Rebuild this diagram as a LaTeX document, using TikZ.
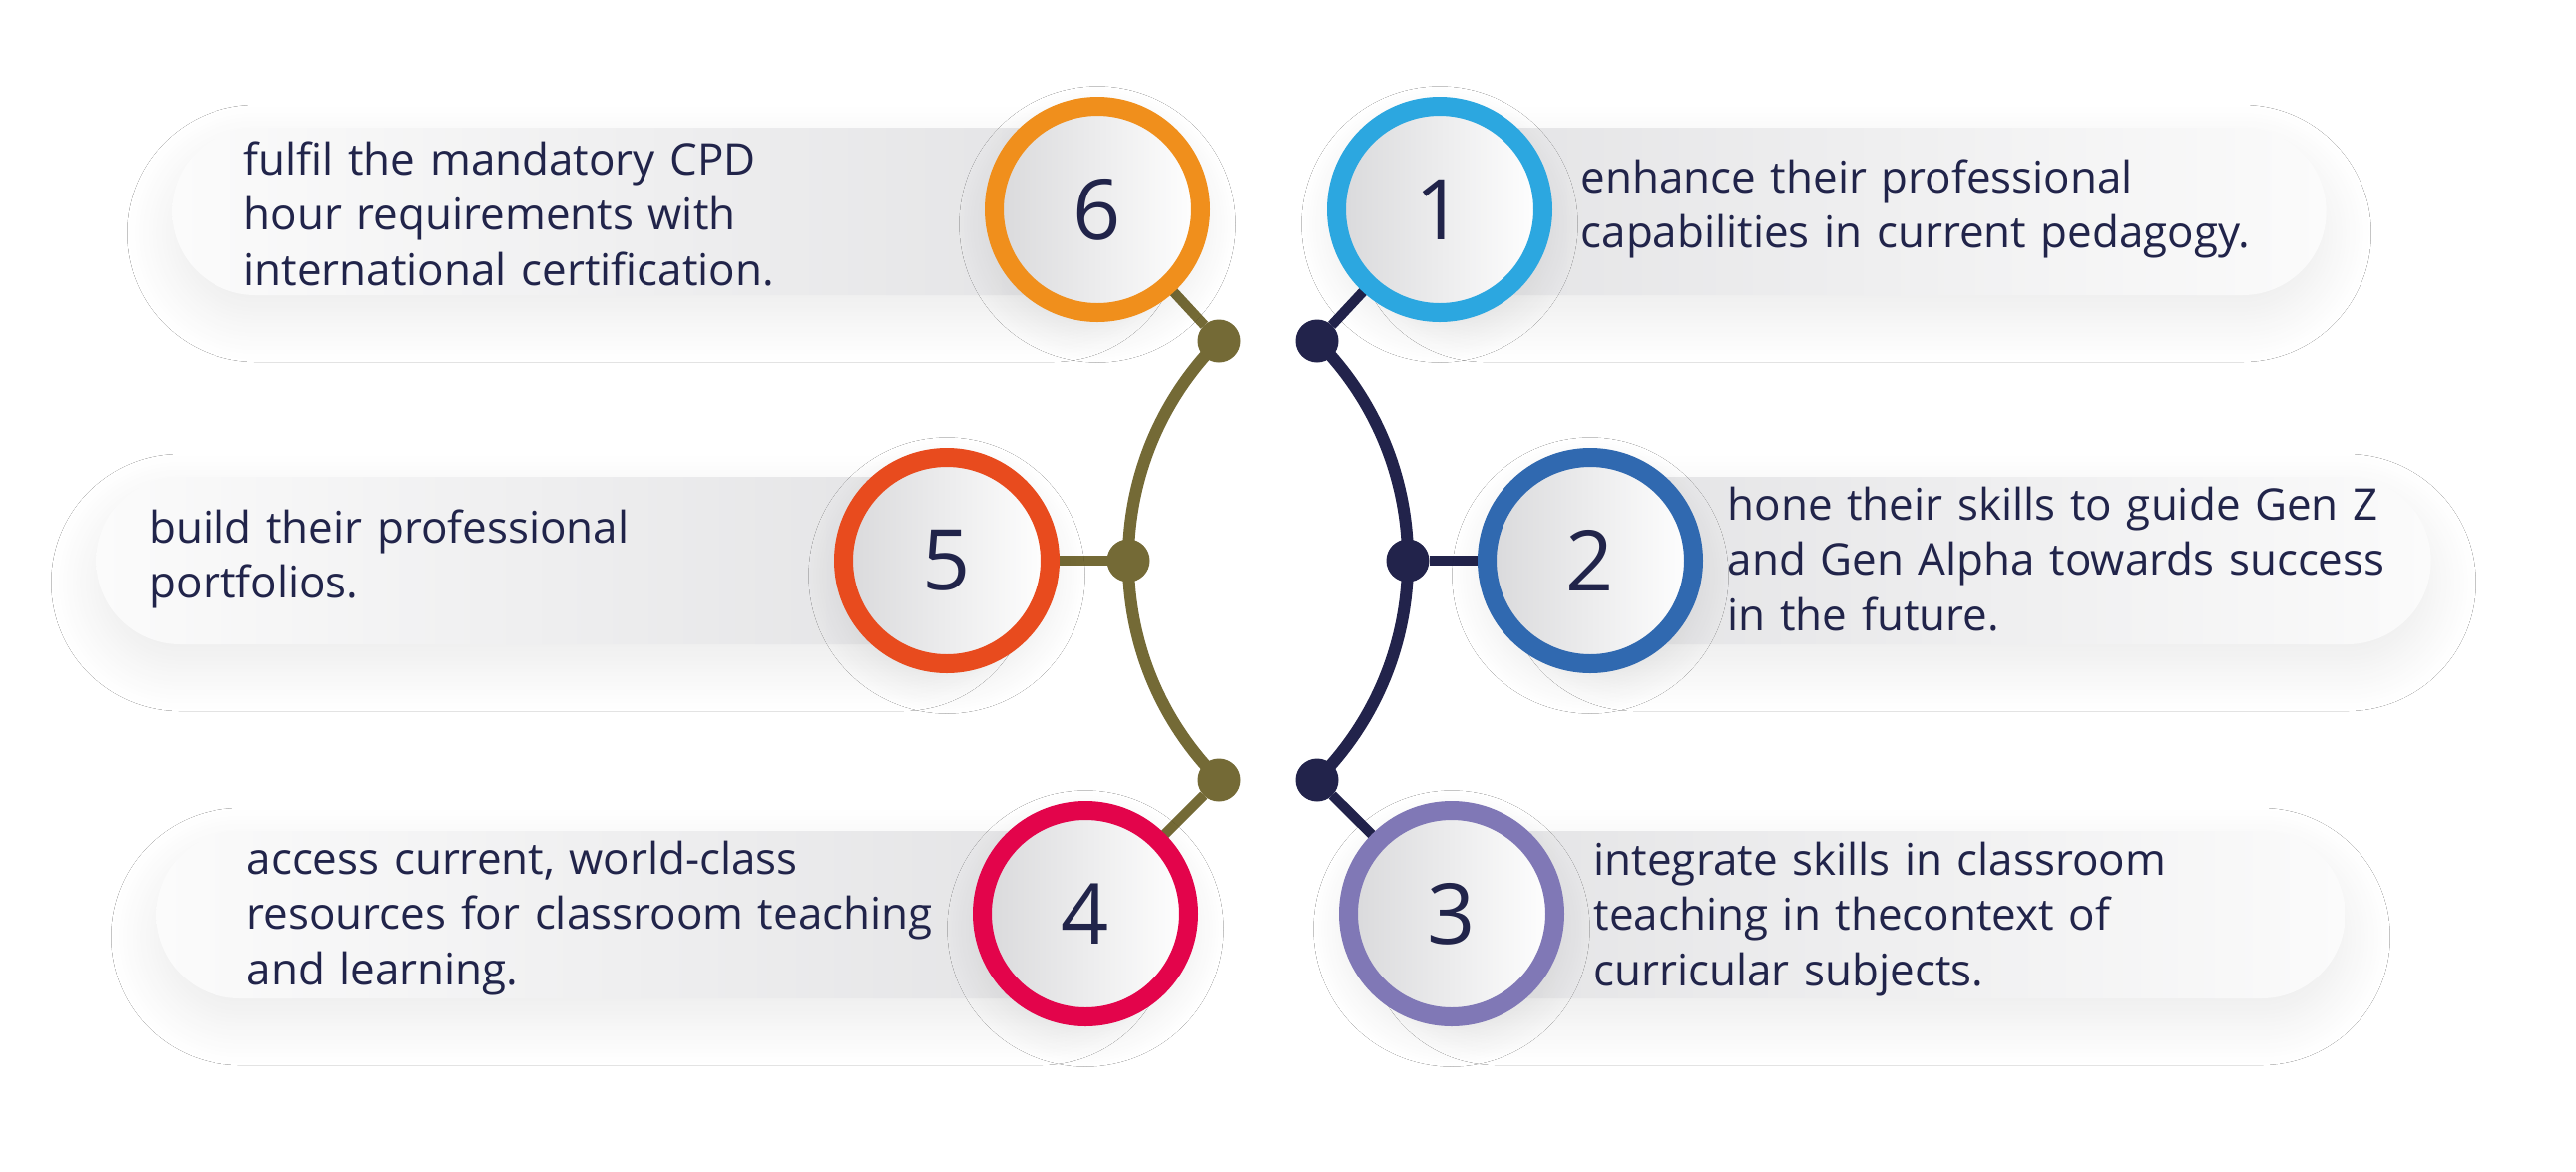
\documentclass[tikz,border=0pt]{standalone}
\usepackage{fontspec}
\setmainfont{Open Sans}
\usetikzlibrary{positioning,backgrounds,shadows.blur}
\definecolor{Ink}{HTML}{21244A}
\definecolor{Navy}{HTML}{22234B}
\definecolor{Olive}{HTML}{746A36}
\definecolor{Amber}{HTML}{F08F1C}
\definecolor{Sky}{HTML}{2CA7E0}
\definecolor{Flame}{HTML}{E84B1E}
\definecolor{Cobalt}{HTML}{3069B0}
\definecolor{Crimson}{HTML}{E3044B}
\definecolor{Lilac}{HTML}{8078B6}
\definecolor{Mist}{HTML}{E2E2E4}
\definecolor{Snow}{HTML}{FBFBFB}
\definecolor{Shade}{HTML}{D9D9DB}
\tikzset{
  ring/.style={circle, minimum size=2.07cm, inner sep=0pt, outer sep=0pt, line width=0.19cm, left color=Shade, right color=white, text=Ink, font=\fontsize{24}{24}\selectfont, blur shadow={shadow xshift=0pt, shadow yshift=-0.15cm, shadow blur radius=0.35cm, shadow blur steps=24, shadow opacity=9}},
  ringamber/.style={ring, draw=Amber},
  ringsky/.style={ring, draw=Sky},
  ringflame/.style={ring, draw=Flame},
  ringcobalt/.style={ring, draw=Cobalt},
  ringcrimson/.style={ring, draw=Crimson},
  ringlilac/.style={ring, draw=Lilac},
  dot/.style={circle, minimum size=0.43cm, inner sep=0pt, outer sep=0pt},
  dotolive/.style={dot, fill=Olive},
  dotnavy/.style={dot, fill=Navy},
  link/.style={line width=0.10cm},
  linkolive/.style={link, draw=Olive},
  linknavy/.style={link, draw=Navy},
  spine/.style={line width=0.12cm},
  pill/.style={rounded corners=0.84cm, minimum height=1.68cm, inner sep=0pt, blur shadow={shadow xshift=0pt, shadow yshift=-0.22cm, shadow blur radius=0.45cm, shadow blur steps=24, shadow opacity=8}},
  pillleft/.style={pill, left color=Snow, right color=Mist, anchor=east},
  pillright/.style={pill, left color=Mist, right color=Snow, anchor=west},
  txt/.style={anchor=base west, inner sep=0pt, align=left, text width=8cm, text=Ink, font=\fontsize{12.5}{15.8}\selectfont}
}
\begin{document}
\begin{tikzpicture}
\useasboundingbox (0,0) rectangle (25.82,-11.74);
% numbered circles
\node[ringamber] (c6) at (11.00,-2.10) {6};
\node[ringsky] (c1) at (14.43,-2.10) {1};
\node[ringflame] (c5) at (9.49,-5.62) {5};
\node[ringcobalt] (c2) at (15.94,-5.62) {2};
\node[ringcrimson] (c4) at (10.88,-9.16) {4};
\node[ringlilac] (c3) at (14.55,-9.16) {3};
% joints
\node[dotolive] (d6) at (12.22,-3.42) {};
\node[dotolive] (d5) at (11.31,-5.62) {};
\node[dotolive] (d4) at (12.22,-7.82) {};
\node[dotnavy] (d1) at (13.20,-3.42) {};
\node[dotnavy] (d2) at (14.11,-5.62) {};
\node[dotnavy] (d3) at (13.20,-7.82) {};
\begin{scope}[on background layer]
\fill[white] (0,0) rectangle (25.82,-11.74);
\node[pillleft, minimum width=9.67cm] (p6) at ([xshift=0.4cm, yshift=-0.02cm]c6.center) {};
\node[pillright, minimum width=9.28cm] (p1) at ([xshift=-0.4cm, yshift=-0.02cm]c1.center) {};
\node[pillleft, minimum width=8.92cm] (p5) at ([xshift=0.4cm]c5.center) {};
\node[pillright, minimum width=8.82cm] (p2) at ([xshift=-0.4cm]c2.center) {};
\node[pillleft, minimum width=9.71cm] (p4) at ([xshift=0.4cm, yshift=-0.01cm]c4.center) {};
\node[pillright, minimum width=9.35cm] (p3) at ([xshift=-0.4cm, yshift=-0.01cm]c3.center) {};
\draw[spine, Olive] (d6) arc[start angle=135, end angle=225, radius=3.11cm];
\draw[spine, Navy] (d1) arc[start angle=45, end angle=-45, radius=3.11cm];
\foreach \a/\b in {d6/c6,d5/c5,d4/c4} \draw[linkolive] (\a) -- (\b);
\foreach \a/\b in {d1/c1,d2/c2,d3/c3} \draw[linknavy] (\a) -- (\b);
\end{scope}
% texts
\node[txt] (t6) at (2.44,-1.75) {fulfil the mandatory CPD\\hour requirements with\\international certification.};
\node[txt] (t1) at (15.84,-1.93) {enhance their professional\\capabilities in current pedagogy.};
\node[txt] (t5) at (1.49,-5.44) {build their professional\\portfolios.};
\node[txt] (t2) at (17.31,-5.21) {hone their skills to guide Gen Z\\and Gen Alpha towards success\\in the future.};
\node[txt] (t4) at (2.47,-8.76) {access current, world-class\\resources for classroom teaching\\and learning.};
\node[txt] (t3) at (15.97,-8.77) {integrate skills in classroom\\teaching in thecontext of\\curricular subjects.};
\end{tikzpicture}
\end{document}
